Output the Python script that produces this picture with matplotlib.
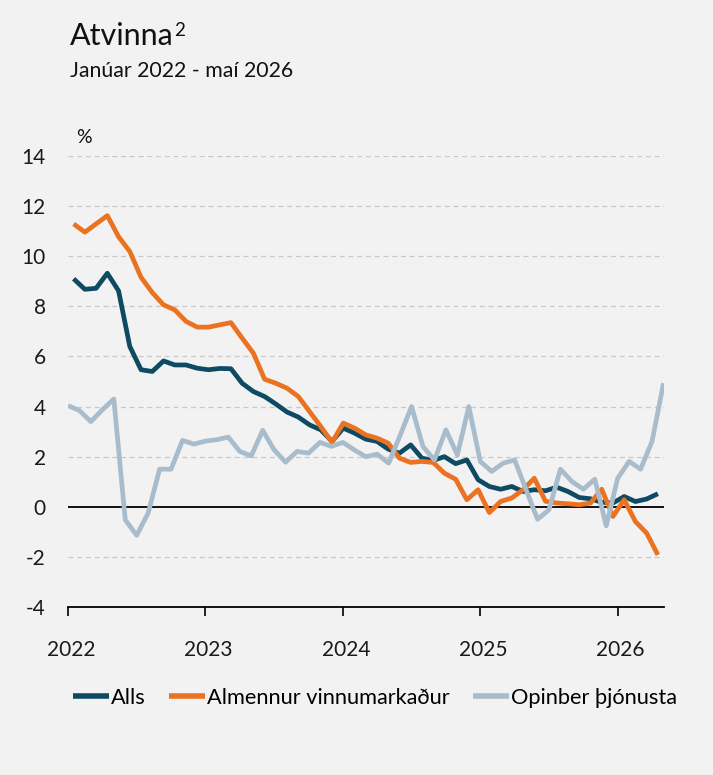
import matplotlib
matplotlib.use("Agg")
import matplotlib.pyplot as plt
import matplotlib.transforms as mtransforms
import numpy as np

plt.rcParams['font.family'] = ['Lato', 'DejaVu Sans']

# ---- data (monthly, Jan 2022 - May 2026) ----
year_ticks = [2022, 2023, 2024, 2025, 2026]
series_names = ["Alls", "Almennur vinnumarkaður", "Opinber þjónusta"]

alls = [9.10, 8.68, 8.72, 9.32, 8.62, 6.40, 5.47, 5.40, 5.82, 5.66,
        5.66, 5.53, 5.47, 5.52, 5.51, 4.93, 4.60, 4.40, 4.10, 3.78,
        3.58, 3.27, 3.07, 2.61, 3.14, 2.94, 2.70, 2.61, 2.30, 2.14,
        2.47, 1.94, 1.85, 2.00, 1.72, 1.87, 1.08, 0.81, 0.70, 0.81,
        0.61, 0.68, 0.64, 0.78, 0.61, 0.37, 0.32, 0.18, 0.15, 0.41,
        0.21, 0.31, 0.52]

almennur = [11.29, 10.96, 11.29, 11.62, 10.78, 10.19, 9.16, 8.55, 8.06, 7.86,
            7.40, 7.17, 7.17, 7.26, 7.35, 6.73, 6.13, 5.09, 4.93, 4.73,
            4.40, 3.80, 3.20, 2.57, 3.34, 3.14, 2.87, 2.74, 2.54, 1.94,
            1.77, 1.81, 1.77, 1.34, 1.10, 0.28, 0.68, -0.23, 0.21, 0.35,
            0.68, 1.14, 0.22, 0.15, 0.12, 0.08, 0.15, 0.70, -0.39, 0.28,
            -0.59, -1.05, -1.92]

opinber = [4.04, 3.84, 3.40, 3.87, 4.30, -0.52, -1.14, -0.25, 1.50, 1.50,
           2.65, 2.50, 2.62, 2.68, 2.78, 2.21, 2.03, 3.05, 2.27, 1.78,
           2.21, 2.14, 2.57, 2.41, 2.57, 2.27, 2.00, 2.10, 1.74, 2.85,
           4.00, 2.40, 1.87, 3.07, 2.07, 4.00, 1.81, 1.41, 1.74, 1.87,
           0.68, -0.50, -0.12, 1.50, 1.01, 0.70, 1.10, -0.76, 1.14, 1.81,
           1.50, 2.61, 4.93]

colors = ["#0e4a62", "#ea7220", "#a9bccb"]
bg = "#f2f2f2"

W, H = 713, 775
fig = plt.figure(figsize=(W / 100, H / 100), dpi=100, facecolor=bg)

x0, x1 = 68, 663.5
y_top, y_bot = 156, 607
ax = fig.add_axes([x0 / W, 1 - y_bot / H, (x1 - x0) / W, (y_bot - y_top) / H])
ax.set_facecolor(bg)

n = len(opinber)
span = n - 1
# public-sector series sits on the month grid; the other two are centred in
# equal slots across the same width
x_grid = np.arange(n)
x_cat = (np.arange(len(alls)) + 0.5) * span / len(alls)

ax.set_xlim(0, span)
ax.set_ylim(-4, 14)

# grid
for yv in range(-2, 15, 2):
    if yv == 0:
        continue
    ax.axhline(yv, color="#c9c9c9", lw=0.9, ls=(0, (4, 3)), zorder=1)
ax.axhline(0, color="black", lw=1.3, zorder=2)

lw = 3.4
ax.plot(x_cat, alls, color=colors[0], lw=lw, solid_joinstyle="round",
        solid_capstyle="butt", label=series_names[0], zorder=4)
ax.plot(x_cat, almennur, color=colors[1], lw=lw, solid_joinstyle="round",
        solid_capstyle="butt", label=series_names[1], zorder=5)
ax.plot(x_grid, opinber, color=colors[2], lw=lw, solid_joinstyle="round",
        solid_capstyle="butt", label=series_names[2], zorder=6)

for s in ["top", "right", "left"]:
    ax.spines[s].set_visible(False)
ax.spines["bottom"].set_color("black")
ax.spines["bottom"].set_linewidth(1.3)

ax.set_yticks(range(-4, 15, 2))
ax.set_yticklabels([str(v) for v in range(-4, 15, 2)])
ax.tick_params(axis="y", length=0, pad=16, labelsize=15, labelcolor="#1a1a1a")

ax.set_xticks([12 * i for i in range(len(year_ticks))])
ax.set_xticklabels([str(y) for y in year_ticks])
ax.tick_params(axis="x", direction="out", length=6.5, width=1.2, pad=17,
               labelsize=15, labelcolor="#1a1a1a")
offset = mtransforms.ScaledTranslation(3 / 100, 0, fig.dpi_scale_trans)
for lab in ax.get_xticklabels():
    lab.set_transform(lab.get_transform() + offset)

# titles
t = fig.text(70 / W, 1 - 45 / H, "Atvinna", fontsize=22, color="#111111",
             va="baseline", ha="left")
fig.canvas.draw()
bb = t.get_window_extent()
fig.text((bb.x1 + 0.5) / W, 1 - 36 / H, "2", fontsize=13.5, color="#111111",
         va="baseline", ha="left")
fig.text(70 / W, 1 - 77 / H, "Janúar 2022 - maí 2026", fontsize=15.3,
         color="#111111", va="baseline", ha="left")
fig.text(76 / W, 1 - 143 / H, "%", fontsize=14, color="#111111",
         va="baseline", ha="left")

# legend
handles, labels = ax.get_legend_handles_labels()
leg = fig.legend(handles, labels, loc="center", ncol=3,
                 bbox_to_anchor=(375 / W, 1 - 698 / H), frameon=False,
                 fontsize=15.7, handlelength=1.65, handletextpad=0.1,
                 columnspacing=1.05)
for h in leg.legend_handles:
    h.set_linewidth(4)

fig.savefig("out.png", dpi=100, facecolor=bg)
